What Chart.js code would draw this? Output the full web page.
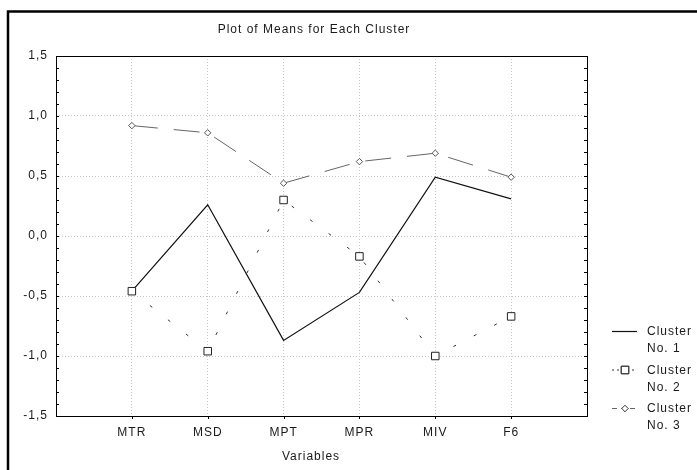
<!DOCTYPE html>
<html>
<head>
<meta charset="utf-8">
<script src="https://cdn.jsdelivr.net/npm/chart.js@4.4.1/dist/chart.umd.min.js"></script>
<style>
html,body{margin:0;padding:0;background:#fff;}
canvas{display:block;}
</style>
</head>
<body>
<canvas id="c" width="697" height="470"></canvas>
<script>
const categories = ['MTR', 'MSD', 'MPT', 'MPR', 'MIV', 'F6'];
const cluster1 = [-0.46, 0.26, -0.87, -0.47, 0.49, 0.31];
const cluster2 = [-0.46, -0.96, 0.30, -0.17, -1.00, -0.67];
const cluster3 = [0.92, 0.86, 0.44, 0.62, 0.69, 0.49];
const seriesLabels = [['Cluster', 'No. 1'], ['Cluster', 'No. 2'], ['Cluster', 'No. 3']];
const yMin = -1.5, yMax = 1.5, yStep = 0.5, yMinorStep = 0.1;
const chartTitle = 'Plot of Means for Each Cluster';
const xTitle = 'Variables';

const FONT = '"Liberation Sans", Arial, sans-serif';
const TEXT = '#1a1a1a';

function toPoints(arr) { return arr.map((v, i) => ({ x: i + 1, y: v })); }

const decor = {
  id: 'decor',
  beforeDraw(chart) {
    const ctx = chart.ctx;
    ctx.save();
    ctx.fillStyle = '#fff';
    ctx.fillRect(0, 0, chart.width, chart.height);
    // outer frame
    ctx.strokeStyle = '#000';
    ctx.lineWidth = 2.5;
    ctx.strokeRect(8, 11.5, chart.width + 20, chart.height + 20);
    ctx.restore();
    ctx.letterSpacing = '1px';
  },
  afterDraw(chart) {
    const ctx = chart.ctx;
    const a = chart.chartArea;
    const ys = chart.scales.y, xs = chart.scales.x;
    ctx.save();
    ctx.letterSpacing = '1px';
    // plot frame
    ctx.strokeStyle = '#000';
    ctx.lineWidth = 1;
    ctx.strokeRect(Math.round(a.left) + 0.5, Math.round(a.top) + 0.5, Math.round(a.right - a.left), Math.round(a.bottom - a.top));
    // minor ticks on y axes
    ctx.beginPath();
    for (let v = yMin; v <= yMax + 1e-9; v += yMinorStep) {
      const y = Math.round(ys.getPixelForValue(v)) + 0.5;
      ctx.moveTo(a.left, y); ctx.lineTo(a.left + 3, y);
      ctx.moveTo(a.right, y); ctx.lineTo(a.right - 3, y);
    }
    // x ticks below axis
    categories.forEach((c, i) => {
      const x = Math.round(xs.getPixelForValue(i + 1)) + 0.5;
      ctx.moveTo(x, a.bottom); ctx.lineTo(x, a.bottom + 3);
    });
    ctx.stroke();
    // titles
    ctx.fillStyle = TEXT;
    ctx.font = '12px ' + FONT;
    ctx.textAlign = 'center';
    ctx.textBaseline = 'middle';
    ctx.fillText(chartTitle, 314, 30);
    ctx.fillText(xTitle, 311, 457);
    // legend
    const ds = chart.data.datasets;
    const rowY = [331, 369.5, 408];
    ctx.textAlign = 'left';
    ds.forEach((d, i) => {
      const y = rowY[i];
      ctx.save();
      ctx.strokeStyle = d.borderColor;
      ctx.lineWidth = d.borderWidth;
      ctx.setLineDash(i === 0 ? [] : (i === 1 ? [2, 3] : [5, 4]));
      ctx.beginPath();
      ctx.moveTo(612, y + 0.5); ctx.lineTo(637, y + 0.5);
      ctx.stroke();
      ctx.setLineDash([]);
      if (d.pointRadius > 0) {
        Chart.helpers.drawPoint(ctx, {
          pointStyle: d.pointStyle, radius: d.pointRadius, borderWidth: d.pointBorderWidth, rotation: 0
        }, 625, y + 0.5);
        ctx.fillStyle = '#fff';
        ctx.strokeStyle = d.pointBorderColor;
        ctx.lineWidth = 1;
        ctx.beginPath();
        if (d.pointStyle === 'rect') {
          const s = d.pointRadius * Math.SQRT1_2;
          ctx.rect(625 - s, y + 0.5 - s, 2 * s, 2 * s);
        } else {
          const r = d.pointRadius;
          ctx.moveTo(625 - r, y + 0.5); ctx.lineTo(625, y + 0.5 - r);
          ctx.lineTo(625 + r, y + 0.5); ctx.lineTo(625, y + 0.5 + r); ctx.closePath();
        }
        ctx.fill(); ctx.stroke();
      }
      ctx.restore();
      ctx.fillStyle = TEXT;
      ctx.font = '12px ' + FONT;
      ctx.textBaseline = 'middle';
      ctx.fillText(seriesLabels[i][0], 647, y + 1);
      ctx.fillText(seriesLabels[i][1], 647, y + 18);
    });
    ctx.restore();
  }
};

new Chart(document.getElementById('c'), {
  type: 'line',
  data: {
    datasets: [
      {
        label: 'Cluster No. 1',
        data: toPoints(cluster1),
        borderColor: '#111', borderWidth: 1.2,
        pointRadius: 0, pointStyle: 'circle',
        tension: 0, order: 1
      },
      {
        label: 'Cluster No. 2',
        data: toPoints(cluster2),
        borderColor: '#333', borderWidth: 1, borderDash: [3, 20],
        pointStyle: 'rect', pointRadius: 5.3, pointBorderWidth: 1,
        pointBorderColor: '#222', pointBackgroundColor: '#fff',
        tension: 0, order: 0
      },
      {
        label: 'Cluster No. 3',
        data: toPoints(cluster3),
        borderColor: '#666', borderWidth: 1, borderDash: [26, 16],
        pointStyle: 'rectRot', pointRadius: 3.2, pointBorderWidth: 1,
        pointBorderColor: '#555', pointBackgroundColor: '#fff',
        tension: 0, order: 2
      }
    ]
  },
  options: {
    responsive: false,
    animation: false,
    events: [],
    layout: { padding: { left: 0, top: 56, right: 110, bottom: 0 } },
    plugins: { legend: { display: false }, title: { display: false }, tooltip: { enabled: false } },
    scales: {
      x: {
        type: 'linear', min: 0, max: categories.length + 1,
        afterFit(s) { s.height = 54; },
        afterBuildTicks(s) { s.ticks = []; for (let i = 0; i <= categories.length + 1; i++) s.ticks.push({ value: i }); },
        ticks: {
          stepSize: 1, autoSkip: false, maxRotation: 0, padding: 9,
          color: TEXT, font: { family: FONT, size: 12 },
          callback: (v) => categories[v - 1] || ''
        },
        grid: {
          drawTicks: false,
          color: (c) => (c.tick && c.tick.value > 0 && c.tick.value <= categories.length) ? '#c8c8c8' : 'rgba(0,0,0,0)'
        },
        border: { display: false, dash: [1, 2] }
      },
      y: {
        type: 'linear', min: yMin, max: yMax,
        afterFit(s) { s.width = 56; },
        ticks: {
          stepSize: yStep, padding: 8,
          color: TEXT, font: { family: FONT, size: 12 },
          callback: (v) => v.toFixed(1).replace('.', ',')
        },
        grid: {
          drawTicks: false,
          color: (c) => (c.tick && c.tick.value > yMin && c.tick.value < yMax) ? '#c8c8c8' : 'rgba(0,0,0,0)'
        },
        border: { display: false, dash: [1, 2] }
      }
    }
  },
  plugins: [decor]
});
</script>
</body>
</html>
